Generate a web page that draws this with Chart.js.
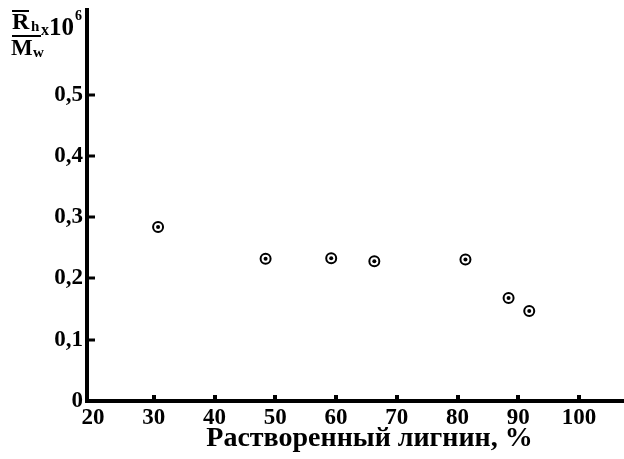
<!DOCTYPE html>
<html>
<head>
<meta charset="utf-8">
<script src="https://cdn.jsdelivr.net/npm/chart.js@4/dist/chart.umd.min.js"></script>
<style>
html,body{margin:0;padding:0;background:#fff;}
#wrap{width:624px;height:459px;}
</style>
</head>
<body>
<div id="wrap"><canvas id="c" width="624" height="459"></canvas></div>
<script>
// Data
const dissolvedLignin = [30.7, 48.4, 59.2, 66.3, 81.3, 88.4, 91.8];
const ratioValues = [0.284, 0.232, 0.233, 0.228, 0.231, 0.168, 0.147];
const xTickValues = [20, 30, 40, 50, 60, 70, 80, 90, 100];
const yTickValues = [0, 0.1, 0.2, 0.3, 0.4, 0.5];
const yTickLabels = ['0', '0,1', '0,2', '0,3', '0,4', '0,5'];
const xTitle = 'Растворенный лигнин, %';

const points = dissolvedLignin.map((x, i) => ({x: x, y: ratioValues[i]}));
const SERIF = '"Liberation Serif", "Times New Roman", serif';

const fullWidthX = {
  id: 'fullWidthX',
  afterLayout(chart) {
    const x = chart.scales.x;
    x.right = chart.width;
    x.width = x.right - x.left;
    x.configure();
    chart.chartArea.right = chart.width;
    chart.chartArea.width = chart.width - chart.chartArea.left;
  }
};

const innerTicks = {
  id: 'innerTicks',
  afterDraw(chart) {
    const ctx = chart.ctx;
    const xs = chart.scales.x, ys = chart.scales.y;
    const a = chart.chartArea;
    ctx.save();
    ctx.fillStyle = '#000';
    yTickValues.forEach(v => {
      if (v === 0) return;
      const py = ys.getPixelForValue(v);
      ctx.fillRect(a.left, Math.round(py) - 1.5, 8, 3);
    });
    xTickValues.forEach(v => {
      if (v === 20) return;
      const px = xs.getPixelForValue(v);
      ctx.fillRect(Math.round(px) - 2, a.bottom - 6, 4, 6);
    });
    // y-axis label: (R̄h / Mw) x10^6
    ctx.textBaseline = 'alphabetic';
    ctx.textAlign = 'left';
    ctx.font = 'bold 24px ' + SERIF;
    ctx.fillText('R', 12, 29);
    ctx.fillRect(12, 10, 17, 2);
    ctx.font = 'bold 15px ' + SERIF;
    ctx.fillText('h', 31, 31);
    ctx.fillRect(12, 35, 29, 2);
    ctx.font = 'bold 23px ' + SERIF;
    ctx.fillText('M', 11, 55);
    ctx.font = 'bold 15px ' + SERIF;
    ctx.fillText('w', 33, 57);
    ctx.font = 'bold 16px ' + SERIF;
    ctx.fillText('x', 41, 35);
    ctx.font = 'bold 25px ' + SERIF;
    ctx.fillText('10', 49, 35);
    ctx.font = 'bold 14px ' + SERIF;
    ctx.fillText('6', 75, 20);
    ctx.restore();
  }
};

new Chart(document.getElementById('c'), {
  type: 'scatter',
  data: {
    datasets: [
      {
        data: points,
        pointRadius: 2,
        pointHoverRadius: 2,
        pointBackgroundColor: '#000',
        pointBorderColor: '#000',
        pointBorderWidth: 0
      },
      {
        data: points,
        pointRadius: 5,
        pointHoverRadius: 5,
        pointBackgroundColor: '#fff',
        pointBorderColor: '#000',
        pointBorderWidth: 2
      }
    ]
  },
  options: {
    responsive: false,
    animation: false,
    events: [],
    layout: {padding: {top: 10, right: 0, left: 0, bottom: 0}},
    plugins: {legend: {display: false}, tooltip: {enabled: false}},
    scales: {
      x: {
        type: 'linear',
        min: 19,
        max: 107.4,
        afterBuildTicks: s => { s.ticks = xTickValues.map(v => ({value: v})); },
        afterFit: s => { s.height = 58; s.paddingRight = 0; s.paddingLeft = 0; },
        grid: {display: false, drawTicks: false},
        border: {display: true, color: '#000', width: 4},
        ticks: {
          color: '#000',
          padding: 3,
          maxRotation: 0,
          autoSkip: false,
          font: {family: SERIF, size: 23, weight: 'bold'},
          callback: v => String(v)
        },
        title: {
          display: true,
          text: '    ' + xTitle,
          color: '#000',
          padding: {top: 0, bottom: 3},
          font: {family: SERIF, size: 28, weight: 'bold'}
        }
      },
      y: {
        type: 'linear',
        min: 0,
        max: 0.638,
        afterBuildTicks: s => { s.ticks = yTickValues.map(v => ({value: v})); },
        afterFit: s => { s.width = 87; s.paddingTop = 0; s.paddingBottom = 0; },
        grid: {display: false, drawTicks: false},
        border: {display: true, color: '#000', width: 4},
        ticks: {
          color: '#000',
          padding: 4,
          autoSkip: false,
          font: {family: SERIF, size: 23, weight: 'bold'},
          callback: v => yTickLabels[yTickValues.indexOf(v)] ?? ''
        }
      }
    }
  },
  plugins: [fullWidthX, innerTicks]
});
</script>
</body>
</html>
